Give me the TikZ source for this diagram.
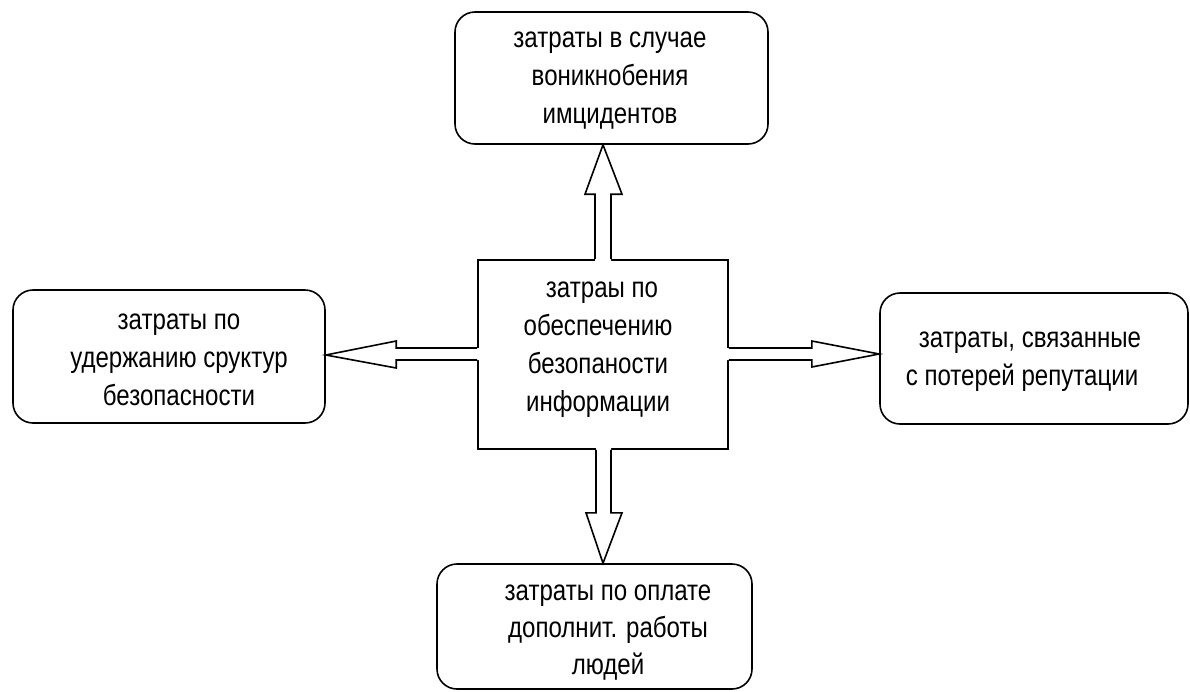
\documentclass[tikz,border=0pt]{standalone}
\usepackage{fontspec}
\setmainfont{Liberation Sans}[FakeStretch=0.83]
\usetikzlibrary{calc}
\begin{document}
\begin{tikzpicture}[x=1pt,y=-1pt,
  box/.style={draw=black,line width=1.6pt,rounded corners=20pt,minimum width=#1,inner sep=0pt},
  cbox/.style={draw=black,line width=1.6pt,inner sep=0pt},
  txt/.style={align=center,inner sep=0pt,font=\fontsize{29}{38}\selectfont},
  arr/.style={draw=black,line width=1.6pt,line join=miter}]
\useasboundingbox (0,0) rectangle (1190,691);
% boxes
\node[box=313pt,minimum height=132pt] (top) at (611.5,78) {};
\node[box=312pt,minimum height=133pt] (left) at (169,356.5) {};
\node[box=308pt,minimum height=131pt] (right) at (1034,358.5) {};
\node[box=315pt,minimum height=125pt] (bot) at (594.5,626.5) {};
\node[cbox,minimum width=250pt,minimum height=189pt] (c) at (603,354.5) {};
% texts
\node[txt] (ttop) at (610,81) {затраты в случае\\воникнобения\\имцидентов};
\node[txt] (tleft) at (179,360) {затраты по\\удержанию сруктур\\безопасности};
\node[txt] (tright) at (1022,362) {\hspace*{16pt}затраты, связанные\\с потерей репутации};
\node[txt,font=\fontsize{29}{37}\selectfont] (tbot) at (608,633) {затраты по оплате\\дополнит. работы\\людей};
\node[txt] (tc) at (598,350) {\hspace*{8pt}затраы по\\обеспечению\\безопаности\\информации};
% arrows
% up
\fill[white] ($(c.north)+(-8,2)$) -- ($(c.north)+(-8,-65)$) -- ($(c.north)+(-18,-65)$) -- (top.south) -- ($(c.north)+(19,-65)$) -- ($(c.north)+(8,-65)$) -- ($(c.north)+(8,2)$) -- cycle;
\draw[arr] ($(c.north)+(-8,0)$) -- ($(c.north)+(-8,-65)$) -- ($(c.north)+(-18,-65)$) -- ($(top.south)+(-8.5,0)$) -- ($(c.north)+(19,-65)$) -- ($(c.north)+(8,-65)$) -- ($(c.north)+(8,0)$);
% down
\fill[white] ($(c.south)+(-7,-2)$) -- ($(c.south)+(-7,63)$) -- ($(c.south)+(-17,63)$) -- ($(bot.north)+(8.5,0)$) -- ($(c.south)+(19,63)$) -- ($(c.south)+(8,63)$) -- ($(c.south)+(8,-2)$) -- cycle;
\draw[arr] ($(c.south)+(-7,0)$) -- ($(c.south)+(-7,63)$) -- ($(c.south)+(-17,63)$) -- ($(bot.north)+(8.5,0)$) -- ($(c.south)+(19,63)$) -- ($(c.south)+(8,63)$) -- ($(c.south)+(8,0)$);
% left
\fill[white] ($(c.west)+(2,-6.5)$) -- ($(c.west)+(-81,-6.5)$) -- ($(c.west)+(-81,-13.5)$) -- ($(left.east)+(0,-1.5)$) -- ($(c.west)+(-81,13.5)$) -- ($(c.west)+(-81,5.5)$) -- ($(c.west)+(2,5.5)$) -- cycle;
\draw[arr] ($(c.west)+(0,-6.5)$) -- ($(c.west)+(-81,-6.5)$) -- ($(c.west)+(-81,-13.5)$) -- ($(left.east)+(0,-1.5)$) -- ($(c.west)+(-81,13.5)$) -- ($(c.west)+(-81,5.5)$) -- ($(c.west)+(0,5.5)$);
% right
\fill[white] ($(c.east)+(-2,-6.5)$) -- ($(c.east)+(83,-6.5)$) -- ($(c.east)+(83,-13.5)$) -- ($(right.west)+(0,-4.5)$) -- ($(c.east)+(83,12.5)$) -- ($(c.east)+(83,5.5)$) -- ($(c.east)+(-2,5.5)$) -- cycle;
\draw[arr] ($(c.east)+(0,-6.5)$) -- ($(c.east)+(83,-6.5)$) -- ($(c.east)+(83,-13.5)$) -- ($(right.west)+(0,-4.5)$) -- ($(c.east)+(83,12.5)$) -- ($(c.east)+(83,5.5)$) -- ($(c.east)+(0,5.5)$);
\end{tikzpicture}
\end{document}
